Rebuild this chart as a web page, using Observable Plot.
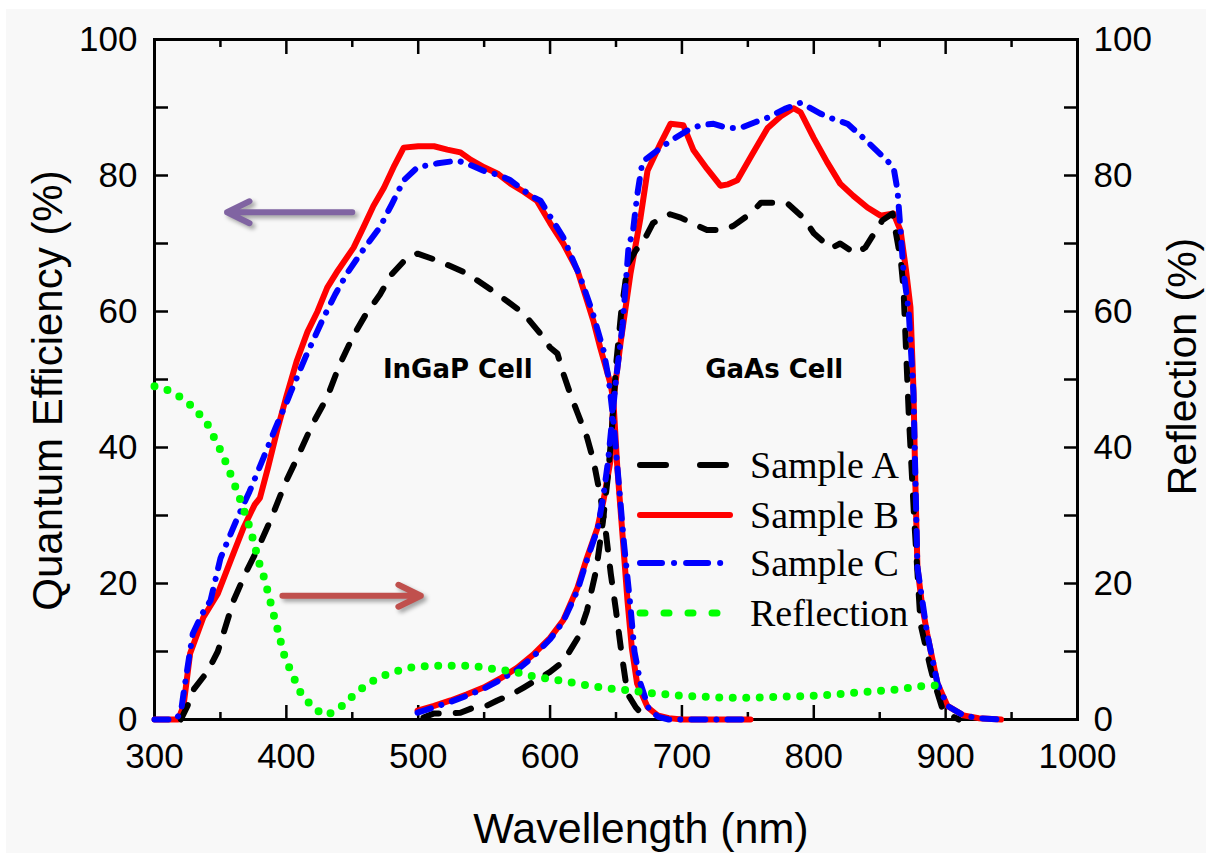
<!DOCTYPE html>
<html>
<head>
<meta charset="utf-8">
<script src="https://cdn.jsdelivr.net/npm/d3@7"></script>
<script src="https://cdn.jsdelivr.net/npm/@observablehq/plot@0.6"></script>
<style>
  body { margin: 0; background: #ffffff; }
  #bg { position: absolute; left: 6px; top: 9px; width: 1200px; height: 844px; background: #f8f8f8; }
  #chart { position: absolute; left: 0; top: 0; }
</style>
</head>
<body>
<div id="bg"></div>
<div id="chart"></div>
<script>
// ---------- DATA (wavelength nm, value %) ----------
const sampleA_InGaP = [[320,0],[325,2],[330,4.5],[340,7],[348,10],[360,17.5],[369,21.5],[378,25],[388,29.3],[399,34.7],[409,38.8],[420,43.5],[431,47.4],[440,52],[451,56.5],[460,59.5],[471,62.5],[480,65.5],[492,68],[499.5,68.5],[514.6,67.5],[537,65.6],[562,62.3],[580,59.7],[595,56.2],[600,54.7],[605.6,53.8],[610,50.9],[616,47.5],[621,45],[628,41.5],[633,38],[638,33],[642,28],[646,21.5],[650,16],[654,10],[658.7,3.8],[665,1.8],[671,0.5],[675,0]];
const sampleA_GaAs = [[504,0.3],[512,0.9],[520,0.9],[532,1],[540,1.6],[549.5,1.8],[560,2.8],[572,3.8],[580,4.7],[593,6.2],[600,7],[610,8.5],[621,12],[628,16],[635,22],[640,29],[644,36],[647,43],[650,52],[654,60],[659,67],[665,69],[671,70.4],[678,73],[691,74.3],[699,73.8],[712,72.6],[719,72],[732,72],[739,72.6],[752,74.4],[760,76],[772,76],[780,75.9],[792,73.8],[800,71.5],[813,69.3],[820,70],[831.6,68.5],[839,69.4],[852,73.4],[859.7,74.4],[866,67.5],[868,63.5],[872,45],[876,30],[881,14],[888.5,7.6],[891,5.7],[898,1.3],[904,0.6],[910,0]];
const sampleB_InGaP = [[300,0],[318,0],[322,2],[327,9.7],[337,15],[348,18.5],[358,23.5],[367.5,28.2],[376,31.6],[380,32.6],[386,37],[393,42.5],[400,47.5],[408,52.8],[416,57],[423.6,60],[431,63.5],[439,66],[451,69.4],[458.5,72.4],[466,75.5],[474,78.2],[482,81.5],[489,84.1],[500,84.3],[512,84.3],[522,83.8],[532,83.4],[540,82.3],[550,81.2],[560,80.3],[570,78.8],[580,77.6],[590,76.3],[600,73],[610,70],[620.8,66],[628,61.6],[633,58.5],[638,54.7],[645.8,49.4],[648,47],[651,37],[655,27],[658.7,17.5],[662,10.5],[666,5.3],[674,1.8],[681.5,0.6],[690,0.2],[700,0],[752,0]];
const sampleB_GaAs = [[499.5,1.3],[512,2],[524.5,2.8],[537,3.7],[549.5,4.7],[562,6],[575,7.6],[587,9.5],[600,12],[610,14.6],[620.8,19.4],[628,23.8],[636,28.2],[640.5,32.2],[645.8,38],[648,47],[653.4,55.3],[661,65.6],[668.6,73.8],[673.9,80.7],[683.7,84.7],[691.3,87.6],[701,87.4],[708.8,83.7],[719,81],[729.2,78.5],[735,78.7],[742,79.3],[753,83],[765,87],[775,88.7],[784.6,89.9],[790,89.3],[800,85.5],[810,82],[820,78.8],[830,77],[840.7,75.3],[850.6,74.1],[860.5,74.4],[865.8,71.9],[870,66],[873.3,60.6],[875.6,48.4],[877,35],[878.6,22.4],[882,17],[886,12.6],[893.8,5.3],[901.4,2],[913.5,0.6],[925,0.2],[942,0]];
const sampleC_InGaP = [[300,0],[316,0],[320,1],[322,3.8],[329,12.6],[336,15.5],[342.5,17.5],[350,23.7],[356,26.5],[363,29.7],[372,33.5],[382.7,38.5],[392,43],[401,47],[403,48],[415,53.5],[428,59],[437,62.5],[446,65.6],[458,69],[471,72.4],[480,75.8],[489,79.3],[499.5,81.2],[515,81.8],[530,82.2],[540,81.5],[549.5,80.7],[562,80],[570,79.3],[580,77.8],[587.5,76.8],[592.7,76.3],[600,74],[610,70.9],[623,65],[632,60],[640.5,54.3],[644.3,50.3],[648,44],[652,35],[656,26],[661,16.5],[664,10],[668.6,5.3],[675,1.5],[682,0.4],[690,0],[752,0]];
const sampleC_GaAs = [[499.5,1],[512,1.8],[524.5,2.6],[537,3.5],[549.5,4.5],[562,5.8],[575,7.3],[587,9.2],[600,11.8],[610,14.4],[620.8,19],[628,23.5],[636,28],[640.5,33],[644,38],[647,44],[650,50],[655,58],[659.5,69.4],[663,72],[666,77],[670,82],[681.5,83.7],[691.3,85.1],[704,86.6],[714,87.4],[724,87.6],[734,87],[744.5,87],[755,87.8],[765,88.5],[778,89.8],[790,90.7],[805,89.1],[815,88.3],[825.6,87.6],[835,86],[845.3,84.1],[855,82.3],[860.5,81.2],[863.5,77.8],[865.8,71.9],[868,66],[872,60],[875.6,48],[878.6,22.4],[886,12.6],[893.8,5.3],[901.4,2],[913.5,0.6],[925,0.2],[940,0]];
const reflection = [[300,49],[310.6,48.4],[319.7,47.4],[329.6,45.9],[340,43.5],[350,39.6],[355,37.4],[360,34.9],[364.5,32.6],[370.5,29.3],[374,27],[379.6,22.9],[383.4,20.7],[390,15.7],[393,13.5],[399,9],[404.6,6.6],[410.7,4],[420.6,1.6],[430.4,0.6],[440,1.6],[450,3.4],[460,5],[470,6.2],[480.5,6.9],[490.4,7.5],[500,7.8],[510.8,7.9],[520.7,7.9],[531,7.9],[541,7.9],[551,7.6],[561,7.3],[571.5,7.1],[581.4,6.6],[590.5,6.2],[599,6],[608,5.7],[621,5.3],[631,4.9],[640.5,4.7],[651,4.4],[661,4.3],[671,4],[681,3.8],[700,3.5],[731.5,3.2],[752,3.2],[782,3.4],[803,3.5],[822.5,3.8],[843,4.1],[863.5,4.4],[881,4.9],[893,5]];

// ticks & labels
const xMajorTicks = [300,400,500,600,700,800,900,1000];
const xMinorTicks = [350,450,550,650,750,850,950];
const yTicks = [0,10,20,30,40,50,60,70,80,90,100];
const yLabelTicks = [0,20,40,60,80,100];
const xTitle = "Wavellength (nm)";
const yLeftTitle = "Quantum Efficiency (%)";
const yRightTitle = "Reflection (%)";

// annotations (data space)
const cellLabels = [
  {text: "InGaP Cell", nm: 530, qe: 51.5},
  {text: "GaAs Cell", nm: 770, qe: 51.5}
];
const arrowToLeftAxis = [{x1: 450, x2: 355, y: 74.6}];
const arrowToRightAxis = [{x1: 397, x2: 502, y: 18.2}];

const legendLabels = ["Sample A", "Sample B", "Sample C", "Reflection"];

// ---------- STYLES ----------
const sans = "'Liberation Sans', Arial, Helvetica, sans-serif";
const serif = "'Liberation Serif', 'Times New Roman', serif";
const styleA = {stroke: "#000000", strokeWidth: 6, strokeDasharray: "16 17", strokeLinecap: "round", strokeLinejoin: "round"};
const styleB = {stroke: "#ff0000", strokeWidth: 6, strokeLinecap: "round", strokeLinejoin: "round"};
const styleC = {stroke: "#0000ff", strokeWidth: 6, strokeDasharray: "14 11 0.1 11", strokeLinecap: "round", strokeLinejoin: "round"};
const styleR = {stroke: "#00ff00", strokeWidth: 8, strokeDasharray: "0 13.5", strokeLinecap: "round", strokeLinejoin: "round"};
const xy = {x: d => d[0], y: d => d[1]};
const blank = () => "";

const plot = Plot.plot({
  width: 1206,
  height: 853,
  marginLeft: 154,
  marginRight: 129,
  marginTop: 39,
  marginBottom: 134,
  style: {background: "transparent", fontFamily: sans, fontSize: "35px", color: "#000"},
  x: {domain: [300, 1000]},
  y: {domain: [0, 100]},
  marks: [
    Plot.frame({stroke: "#000", strokeWidth: 3}),
    // inward ticks
    Plot.axisX({anchor: "bottom", ticks: xMajorTicks, tickSize: 14, dy: -14, tickFormat: blank, label: null, strokeWidth: 2.5}),
    Plot.axisX({anchor: "bottom", ticks: xMinorTicks, tickSize: 7, dy: -7, tickFormat: blank, label: null, strokeWidth: 2.5}),
    Plot.axisX({anchor: "top", ticks: xMajorTicks, tickSize: 14, dy: 14, tickFormat: blank, label: null, strokeWidth: 2.5}),
    Plot.axisX({anchor: "top", ticks: xMinorTicks, tickSize: 7, dy: 7, tickFormat: blank, label: null, strokeWidth: 2.5}),
    Plot.axisY({anchor: "left", ticks: yTicks, tickSize: 14, dx: 14, tickFormat: blank, label: null, strokeWidth: 2.5}),
    Plot.axisY({anchor: "right", ticks: yTicks, tickSize: 14, dx: -14, tickFormat: blank, label: null, strokeWidth: 2.5}),
    // tick labels
    Plot.axisX({anchor: "bottom", ticks: xMajorTicks, tickSize: 0, tickPadding: 24, tickFormat: d => `${d}`, label: null, fontSize: 35}),
    Plot.axisY({anchor: "left", ticks: yLabelTicks, tickSize: 0, tickPadding: 17, tickFormat: d => `${d}`, label: null, fontSize: 35}),
    Plot.axisY({anchor: "right", ticks: yLabelTicks, tickSize: 0, tickPadding: 16, tickFormat: d => `${d}`, label: null, fontSize: 35}),
    // axis titles
    Plot.text([xTitle], {frameAnchor: "bottom", text: d => d, textAnchor: "middle", dx: 25, dy: 110, fontSize: 43, lineAnchor: "middle"}),
    Plot.text([yLeftTitle], {frameAnchor: "left", text: d => d, textAnchor: "middle", rotate: -90, dx: -106, dy: 11, fontSize: 42, lineAnchor: "middle"}),
    Plot.text([yRightTitle], {frameAnchor: "right", text: d => d, textAnchor: "middle", rotate: -90, dx: 105, dy: -13, fontSize: 41, lineAnchor: "middle"}),
    // curves
    Plot.line(sampleB_InGaP, {...xy, ...styleB}),
    Plot.line(sampleB_GaAs, {...xy, ...styleB}),
    Plot.line(sampleA_InGaP, {...xy, ...styleA}),
    Plot.line(sampleA_GaAs, {...xy, ...styleA}),
    Plot.line(sampleC_InGaP, {...xy, ...styleC}),
    Plot.line(sampleC_GaAs, {...xy, ...styleC}),
    Plot.line(reflection, {...xy, ...styleR}),
    // annotations
    Plot.text(cellLabels, {x: "nm", y: "qe", text: "text", textAnchor: "middle", fontFamily: "'DejaVu Sans', sans-serif", fontWeight: "bold", fontSize: 26, lineAnchor: "middle"}),
    Plot.arrow(arrowToLeftAxis, {x1: "x1", x2: "x2", y1: "y", y2: "y", stroke: "#8064a2", strokeWidth: 6, headLength: 6.25, headAngle: 52}),
    Plot.arrow(arrowToRightAxis, {x1: "x1", x2: "x2", y1: "y", y2: "y", stroke: "#c0504d", strokeWidth: 6, headLength: 6.25, headAngle: 52})
  ]
});

const svg = d3.select(plot);
svg.selectAll('g[aria-label="arrow"]').style("filter", "drop-shadow(3px 3px 2px rgba(0,0,0,0.35))");

// legend (inside the plot, no box)
const legendStyles = [
  {stroke: "#000", width: 6, dash: "26 34"},
  {stroke: "#ff0000", width: 6, dash: null},
  {stroke: "#0000ff", width: 6, dash: "22 12 0.1 12"},
  {stroke: "#00ff00", width: 7, dash: "5 19"}
];
const legendRowY = [465, 515, 563, 613];
const lg = svg.append("g").attr("aria-label", "legend");
legendLabels.forEach((label, i) => {
  const s = legendStyles[i];
  lg.append("line")
    .attr("x1", 640).attr("x2", 730)
    .attr("y1", legendRowY[i]).attr("y2", legendRowY[i])
    .attr("stroke", s.stroke).attr("stroke-width", s.width)
    .attr("stroke-linecap", "round")
    .attr("stroke-dasharray", s.dash);
  lg.append("text")
    .attr("x", 750).attr("y", legendRowY[i] + 13)
    .attr("text-anchor", "start")
    .attr("font-family", serif).attr("font-size", 38)
    .attr("fill", "#000")
    .text(label);
});

document.getElementById("chart").append(plot);
</script>
</body>
</html>
